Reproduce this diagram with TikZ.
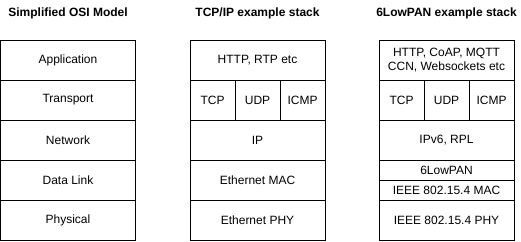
\documentclass[tikz,border=0pt]{standalone}
\usepackage{fontspec}
\setmainfont{Liberation Sans}

\tikzset{
    layer/.style={draw, rectangle, anchor=north west, inner sep=0pt, outer sep=0pt,
        line width=0.9pt, minimum width=135pt, minimum height=40pt, align=center,
        font=\fontsize{12}{14.4}\selectfont},
    cell/.style={layer, minimum width=45pt},
    thin layer/.style={layer, minimum height=20pt},
    stack title/.style={anchor=center, font=\bfseries\fontsize{12}{14.4}\selectfont},
}

\begin{document}
\begin{tikzpicture}[x=1pt, y=-1pt]
    \useasboundingbox (0,0) rectangle (521,241);
    % simplified OSI model
    \begin{scope}[xshift=0.5pt]
        \node[stack title] (osi) at (67.5, 13) {Simplified OSI Model};
        \node[layer] (osi-app) at (0, 40) {Application};
        \node[layer] (osi-trans) at (0, 80) {Transport};
        \node[layer] (osi-net) at (0, 120) {Network};
        \node[layer] (osi-link) at (0, 160) {Data Link};
        \node[layer] (osi-phy) at (0, 200) {Physical};
    \end{scope}
    % TCP/IP stack
    \begin{scope}[xshift=190pt]
        \node[stack title] (tcpip) at (67.5, 13) {TCP/IP example stack};
        \node[layer] (tcpip-app) at (0, 40) {HTTP, RTP etc};
        \node[cell] (tcpip-tcp) at (0, 80) {TCP};
        \node[cell] (tcpip-udp) at (45, 80) {UDP};
        \node[cell] (tcpip-icmp) at (90, 80) {ICMP};
        \node[layer] (tcpip-net) at (0, 120) {IP};
        \node[layer] (tcpip-mac) at (0, 160) {Ethernet MAC};
        \node[layer] (tcpip-phy) at (0, 200) {Ethernet PHY};
    \end{scope}
    % 6LowPAN stack
    \begin{scope}[xshift=379pt]
        \node[stack title] (lowpan) at (67.5, 13) {6LowPAN example stack};
        \node[layer] (lowpan-app) at (0, 40) {HTTP, CoAP, MQTT\\CCN, Websockets etc};
        \node[cell] (lowpan-tcp) at (0, 80) {TCP};
        \node[cell] (lowpan-udp) at (45, 80) {UDP};
        \node[cell] (lowpan-icmp) at (90, 80) {ICMP};
        \node[layer] (lowpan-net) at (0, 120) {IPv6, RPL};
        \node[thin layer] (lowpan-adapt) at (0, 160) {6LowPAN};
        \node[thin layer] (lowpan-mac) at (0, 180) {IEEE 802.15.4 MAC};
        \node[layer] (lowpan-phy) at (0, 200) {IEEE 802.15.4 PHY};
    \end{scope}
\end{tikzpicture}
\end{document}
